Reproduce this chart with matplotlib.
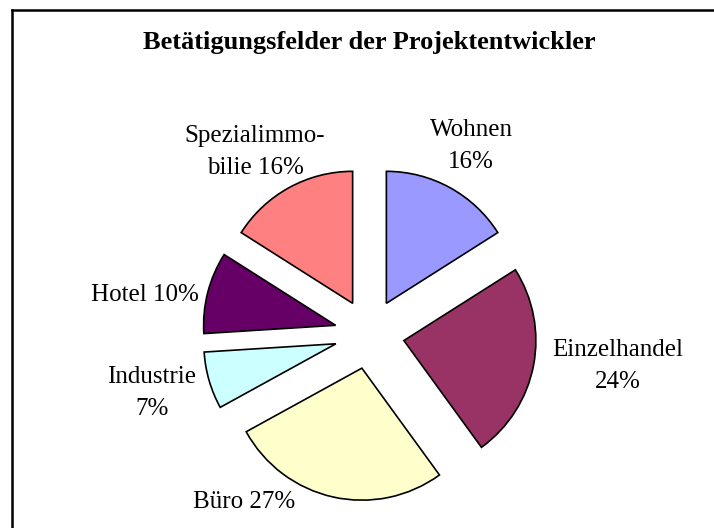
import matplotlib
matplotlib.use("Agg")
import matplotlib.pyplot as plt
from matplotlib.lines import Line2D

# ---- data ----
categories = ["Wohnen", "Einzelhandel", "Büro", "Industrie", "Hotel", "Spezialimmobilie"]
values = [16, 24, 27, 7, 10, 16]
label_names = ["Wohnen\n", "Einzelhandel\n", "Büro ", "Industrie\n", "Hotel ", "Spezialimmo-\nbilie "]
colors = ["#9999FF", "#993366", "#FFFFCC", "#CCFFFF", "#660066", "#FF8080"]
title = "Betätigungsfelder der Projektentwickler"

# ---- layout (pixel units, image y downward) ----
W, H = 714, 528
label_pos = [(471, 146), (618, 366), (244, 502), (152, 393), (145, 295), (255, 152)]
pie_center = (369.5, 334)
pie_radius = 132
explode_px = 35

plt.rcParams['font.family'] = ['Liberation Serif', 'DejaVu Serif']

fig = plt.figure(figsize=(W / 100, H / 100), dpi=100)
ax = fig.add_axes([0, 0, 1, 1])

ax.pie(values, colors=colors, startangle=90, counterclock=False,
       explode=[explode_px] * len(values),
       center=(pie_center[0], H - pie_center[1]), radius=pie_radius,
       wedgeprops=dict(edgecolor='black', linewidth=1.2), frame=True)
ax.set_xlim(0, W)
ax.set_ylim(0, H)
ax.set_aspect('equal')
ax.axis('off')

for name, v, (x, y) in zip(label_names, values, label_pos):
    ax.text(x, H - y, f"{name}{v}%", ha='center', va='center',
            fontsize=18, linespacing=1.62, color='black')

ax.text(369, H - 43, title, ha='center', va='center', fontsize=19,
        fontweight='bold', color='black')

# chart frame (only top and left visible within image)
fig.add_artist(Line2D([12 / W, 1.01], [1 - 9.5 / H, 1 - 9.5 / H], color='black',
                      linewidth=1.8, transform=fig.transFigure))
fig.add_artist(Line2D([12 / W, 12 / W], [1 - 9.5 / H, -0.01], color='black',
                      linewidth=1.8, transform=fig.transFigure))

fig.savefig("out.png", dpi=100)
